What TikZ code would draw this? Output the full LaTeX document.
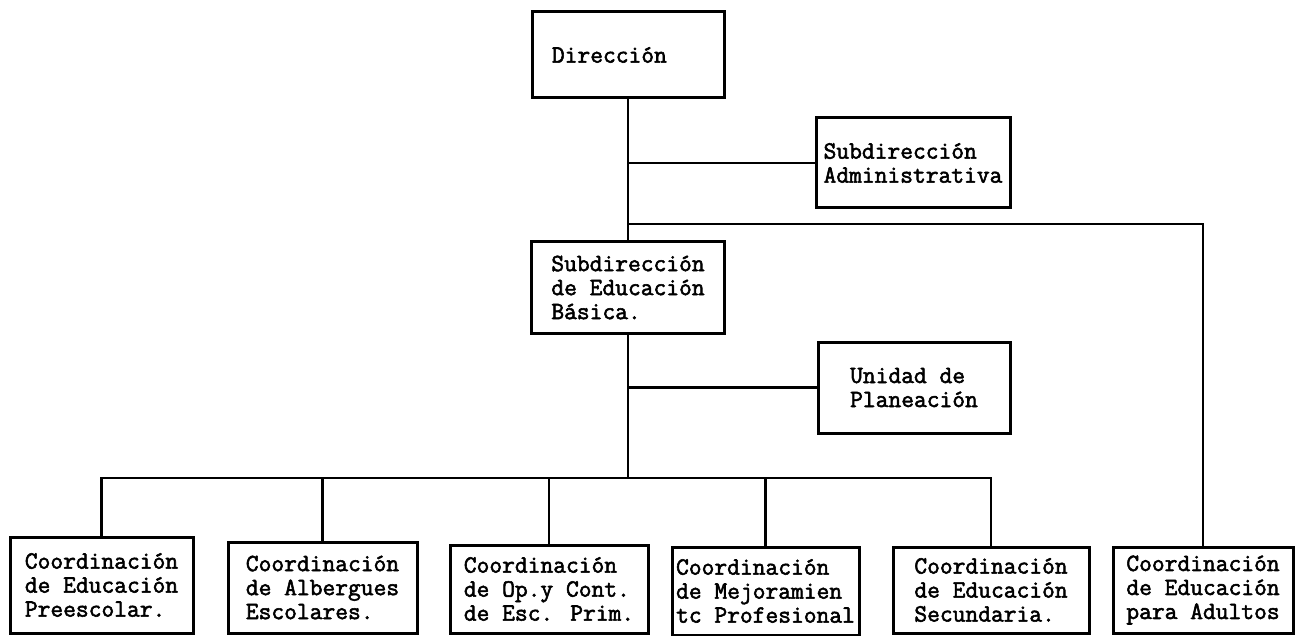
\documentclass[tikz,border=0pt]{standalone}
\usepackage{fontspec}
\newfontfamily\typewr[FakeBold=2.2]{Latin Modern Mono}
\usetikzlibrary{positioning}

\tikzset{
  caja/.style 2 args={draw, line width=1.5pt, align=left, inner sep=0pt,
    minimum width=#1*0.5pt, minimum height=#2*0.5pt,
    font=\typewr\fontsize{12.4}{12}\selectfont},
  linea/.style={line width=1.4pt}
}

\begin{document}
\begin{tikzpicture}[x=0.5pt,y=-0.5pt]
\useasboundingbox (0,0) rectangle (1295,636);

\node[caja={192}{86}] (dir) at (628,55) {Dirección\hspace{1.5em}};
\node[caja={194}{90}] (subadm) at (913,163) {Subdirección\\Administrativa};
\node[caja={193}{91}] (subbas) at (628,287.5) {Subdirección\\de Educación\\Básica.\hspace{5em}};
\node[caja={192}{91}] (unidad) at (914,387.5) {Unidad de\hspace{3em}\\Planeación};

\node[caja={183}{96}] (preesc) at (101.5,585) {Coordinación\\de Educación\\Preescolar.};
\node[caja={189}{91}] (alberg) at (322.5,587.5) {Coordinación\\de Albergues\\Escolares.};
\node[caja={198}{88}] (opcont) at (549,589) {Coordinación\\de Op.y Cont.\\de Esc. Prim.};
\node[caja={187}{88}] (mejora) at (765.5,591) {Coordinación\\de Mejoramien\\tc Profesional};
\node[caja={196}{86}] (secund) at (991,590) {Coordinación\\de Educación\\Secundaria.};
\node[caja={180}{86}] (adult) at (1203,590) {Coordinación\\de Educación\\para Adultos};

\coordinate (ramaadm) at (628,163);
\coordinate (ramaadu) at (628,224);
\coordinate (bus) at (628,478);

\draw[linea] (dir.south) -- (subbas.north);
\draw[linea] (ramaadm) -- (subadm.west);
\draw[linea] (ramaadu) -| (adult.north);
\draw[linea] (subbas.south) -- (bus);
\draw[linea] (unidad.west -| bus) -- (unidad.west);
\draw[linea] (preesc.north) |- (bus) -| (secund.north);
\foreach \c in {alberg,opcont,mejora}
  \draw[linea] (\c.north) -- (\c.north |- bus);

\end{tikzpicture}
\end{document}
